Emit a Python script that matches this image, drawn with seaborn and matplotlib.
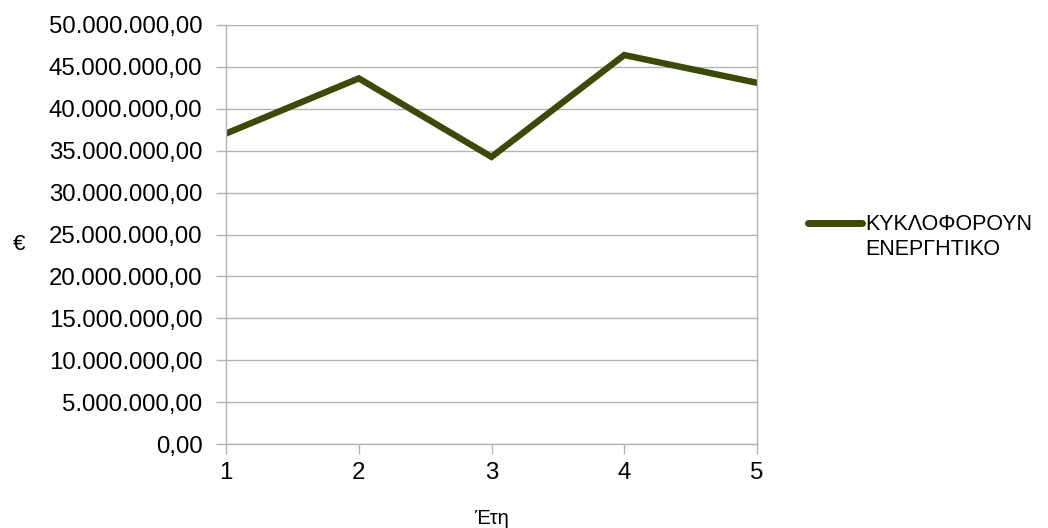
import matplotlib
matplotlib.use("Agg")
import matplotlib.pyplot as plt
from matplotlib.ticker import FuncFormatter, MultipleLocator
from matplotlib.legend_handler import HandlerLine2D
import numpy as np
import seaborn as sns
import pandas as pd

years = [1, 2, 3, 4, 5]
current_assets = [37_050_000, 43_630_000, 34_260_000, 46_410_000, 43_100_000]
series_name = "ΚΥΚΛΟΦΟΡΟΥΝ\nΕΝΕΡΓΗΤΙΚΟ"
x_label = "Έτη"
y_label = "€"

line_color = "#3b4a06"
grid_color = "#b3b3b3"

sns.set_theme(style="whitegrid")
plt.rcParams["font.family"] = ["Liberation Sans", "DejaVu Sans"]

df = pd.DataFrame({"year": years, "value": current_assets, "series": series_name})

fig = plt.figure(figsize=(10.48, 5.28), dpi=100)
ax = fig.add_axes([0.2157, 0.159, 0.5066, 0.7937])

sns.lineplot(data=df, x="year", y="value", hue="series", palette=[line_color],
             linewidth=4.6, ax=ax, solid_capstyle="round", solid_joinstyle="miter")

ax.set_xlim(1, 5)
ax.set_ylim(0, 50_000_000)
ax.xaxis.set_major_locator(MultipleLocator(1))
ax.yaxis.set_major_locator(MultipleLocator(5_000_000))


def euro_fmt(v, pos):
    s = f"{v:,.2f}"
    return s.replace(",", "X").replace(".", ",").replace("X", ".")


ax.yaxis.set_major_formatter(FuncFormatter(euro_fmt))
ax.xaxis.set_major_formatter(FuncFormatter(lambda v, p: f"{int(v)}"))

ax.grid(axis="y", color=grid_color, linewidth=1.0)
ax.grid(axis="x", visible=False)
for side in ["left", "right", "bottom"]:
    ax.spines[side].set_visible(True)
    ax.spines[side].set_color(grid_color)
    ax.spines[side].set_linewidth(1.0)
ax.spines["top"].set_visible(False)

ax.tick_params(axis="y", which="major", direction="out", length=7, width=1.0,
               color=grid_color, labelsize=17.3, labelcolor="#000000", pad=10, left=True)
ax.tick_params(axis="x", which="major", direction="out", length=7, width=1.0,
               color=grid_color, labelsize=17.3, labelcolor="#000000", pad=6, bottom=True)

ax.set_xlabel(x_label, fontsize=14.5, color="#000000", va="top")
ax.xaxis.set_label_coords(0.5, (444 - 509) / 419)
ax.set_ylabel(y_label, fontsize=16, color="#000000", rotation=0, va="center", ha="center")
ax.yaxis.set_label_coords((19 - 226) / 531, (444 - 244) / 419)


class FirstLineHandler(HandlerLine2D):
    """Legend line aligned with the first row of a two-line label."""

    def create_artists(self, legend, orig_handle, xdescent, ydescent,
                       width, height, fontsize, trans):
        artists = super().create_artists(legend, orig_handle, xdescent, ydescent,
                                         width, height, fontsize, trans)
        for a in artists:
            a.set_ydata(np.asarray(a.get_ydata()) + 0.68 * fontsize)
        return artists


handles, labels = ax.get_legend_handles_labels()
leg = ax.legend(handles, labels, loc="center left",
                bbox_to_anchor=((808 - 226) / 531, (444 - 237) / 419),
                frameon=False, fontsize=15.5, handlelength=2.5, handletextpad=0.15,
                borderaxespad=0, borderpad=0,
                handler_map={type(handles[0]): FirstLineHandler()})
for h in leg.get_lines():
    h.set_linewidth(5)
    h.set_solid_capstyle("round")
for t in leg.get_texts():
    t.set_color("#000000")
    t.set_linespacing(1.2)

fig.savefig("out.png", dpi=100, facecolor="white")
